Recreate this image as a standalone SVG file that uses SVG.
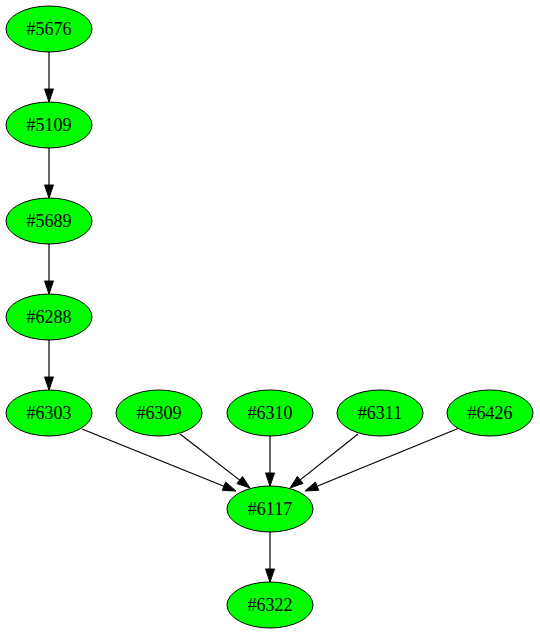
<svg xmlns="http://www.w3.org/2000/svg" width="540" height="635" viewBox="0 0 540 635">
<style>
.n ellipse{fill:#00ff00;stroke:#000;stroke-width:1}
.n text{font-family:"Liberation Serif","Times New Roman",serif;font-size:18px;text-anchor:middle;fill:#000}
.e line{stroke:#000;stroke-width:1.2}
.e polygon{fill:#000;stroke:#000;stroke-width:1}
</style>
<rect width="540" height="635" fill="#fff"/>
<g id="edges" class="e">
<line x1="49" y1="52" x2="49" y2="89"/><polygon points="44.5,89 53.5,89 49,102"/>
<line x1="49" y1="148" x2="49" y2="185"/><polygon points="44.5,185 53.5,185 49,198"/>
<line x1="49" y1="244" x2="49" y2="281"/><polygon points="44.5,281 53.5,281 49,294"/>
<line x1="49" y1="340" x2="49" y2="377"/><polygon points="44.5,377 53.5,377 49,390"/>
<line x1="82" y1="429" x2="223.9" y2="486.2"/><polygon points="222.3,490.4 225.6,482 236,491"/>
<line x1="180" y1="434" x2="239.7" y2="480.1"/><polygon points="236.9,483.6 242.5,476.5 250,488"/>
<line x1="270" y1="436" x2="270" y2="473"/><polygon points="265.5,473 274.5,473 270,486"/>
<line x1="358" y1="434" x2="300.2" y2="479.9"/><polygon points="297.4,476.4 303,483.4 290,488"/>
<line x1="458" y1="428.5" x2="317.1" y2="486.2"/><polygon points="315.4,482 318.7,490.3 305,491"/>
<line x1="270" y1="532" x2="270" y2="569"/><polygon points="265.5,569 274.5,569 270,582"/>
</g>
<g id="n5676" class="n"><ellipse cx="49" cy="29" rx="43" ry="23"/><text x="49" y="35">#5676</text></g>
<g id="n5109" class="n"><ellipse cx="49" cy="125" rx="43" ry="23"/><text x="49" y="131">#5109</text></g>
<g id="n5689" class="n"><ellipse cx="49" cy="221" rx="43" ry="23"/><text x="49" y="227">#5689</text></g>
<g id="n6288" class="n"><ellipse cx="49" cy="317" rx="43" ry="23"/><text x="49" y="323">#6288</text></g>
<g id="n6303" class="n"><ellipse cx="49" cy="413" rx="43" ry="23"/><text x="49" y="419">#6303</text></g>
<g id="n6309" class="n"><ellipse cx="159" cy="413" rx="43" ry="23"/><text x="159" y="419">#6309</text></g>
<g id="n6310" class="n"><ellipse cx="270" cy="413" rx="43" ry="23"/><text x="270" y="419">#6310</text></g>
<g id="n6311" class="n"><ellipse cx="380" cy="413" rx="43" ry="23"/><text x="380" y="419">#6311</text></g>
<g id="n6426" class="n"><ellipse cx="490" cy="413" rx="43" ry="23"/><text x="490" y="419">#6426</text></g>
<g id="n6117" class="n"><ellipse cx="270" cy="509" rx="43" ry="23"/><text x="270" y="515">#6117</text></g>
<g id="n6322" class="n"><ellipse cx="270" cy="605" rx="43" ry="23"/><text x="270" y="611">#6322</text></g>
</svg>
